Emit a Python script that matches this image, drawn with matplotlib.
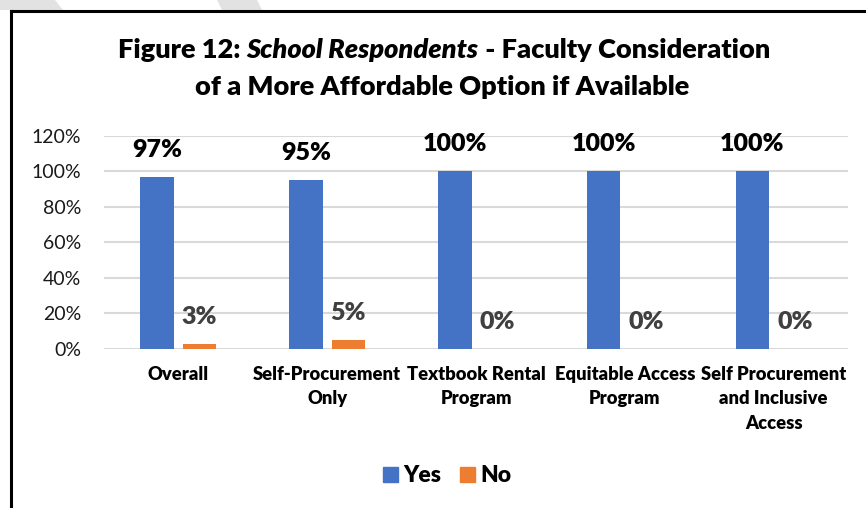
import matplotlib
matplotlib.use('Agg')
import matplotlib.pyplot as plt
import matplotlib.patches as mpatches
from matplotlib.ticker import FuncFormatter
import numpy as np

plt.rcParams['font.family'] = ['Lato', 'DejaVu Sans']

# survey shares (%)
categories = ['Overall', 'Self-Procurement\nOnly', 'Textbook Rental\nProgram',
              'Equitable Access\nProgram', 'Self Procurement\nand Inclusive\nAccess']
yes_pct = [97, 95, 100, 100, 100]
no_pct = [3, 5, 0, 0, 0]
yticks = [0, 20, 40, 60, 80, 100, 120]

BLUE = '#4472C4'
ORANGE = '#ED7D31'
W, H = 866, 508

fig = plt.figure(figsize=(W / 100, H / 100), dpi=100)
ax = fig.add_axes([104 / W, 1 - 349 / H, (848 - 104) / W, (349 - 135.7) / H])

x = np.arange(len(categories))
bw = 0.225
off = 0.1425
ax.bar(x - off, yes_pct, bw, color=BLUE, zorder=3)
ax.bar(x + off, no_pct, bw, color=ORANGE, zorder=3)

for xi, v in zip(x, yes_pct):
    ax.annotate(f'{v}%', (xi - off, v), xytext=(0, 14.4), textcoords='offset points',
                ha='center', va='baseline', fontsize=18, fontweight='heavy', color='black')
for xi, v in zip(x, no_pct):
    ax.annotate(f'{v}%', (xi + off, v), xytext=(0, 14.4), textcoords='offset points',
                ha='center', va='baseline', fontsize=18, fontweight='heavy', color='#404040')

ax.set_xlim(-0.5, len(categories) - 0.5)
ax.set_ylim(0, 120)
ax.set_yticks(yticks)
ax.yaxis.set_major_formatter(FuncFormatter(lambda v, p: f'{v:.0f}%'))
ax.tick_params(axis='y', length=0, pad=16.5, labelsize=14, labelcolor='#1a1a1a')
ax.set_xticks(x)
ax.set_xticklabels(categories, fontsize=13.2, fontweight='heavy', linespacing=1.55, va='top')
ax.tick_params(axis='x', length=0, pad=12)
ax.grid(axis='y', color='#d9d9d9', linewidth=1.5, zorder=0)
for s in ax.spines.values():
    s.set_visible(False)

# title, first line mixes bold and bold italic
r = fig.canvas.get_renderer()
def title_line(parts, yc, size, cx=444):
    objs = [fig.text(0, 1 - yc / H, s, fontsize=size, fontweight='heavy', fontstyle=st,
                     ha='left', va='center') for s, st in parts]
    widths = [t.get_window_extent(r).width for t in objs]
    xx = cx - sum(widths) / 2
    for t, w in zip(objs, widths):
        t.set_x(xx / W)
        xx += w

title_line([('Figure 12: ', 'normal'), ('School Respondents', 'italic'),
            (' - Faculty Consideration', 'normal')], 50, 19.5)
title_line([('of a More Affordable Option if Available', 'normal')], 87, 19.5, cx=442)

handles = [mpatches.Patch(color=BLUE, label='Yes'), mpatches.Patch(color=ORANGE, label='No')]
fig.legend(handles=handles, loc='center', bbox_to_anchor=(447.5 / W, 1 - 476 / H), ncol=2,
           frameon=False, prop={'weight': 'heavy', 'size': 16.5}, handlelength=0.65,
           handleheight=0.65, handletextpad=0.25, columnspacing=0.8)

# chart frame (left and top edges visible)
fig.add_artist(plt.Line2D([11 / W, 11 / W], [0, 1 - 11 / H], color='black', lw=2.2))
fig.add_artist(plt.Line2D([11 / W, 1], [1 - 11 / H, 1 - 11 / H], color='black', lw=2.2))

# faint watermark fragments along the top edge
for pts in ([(0, 0), (55, 0), (63, 10), (0, 10)], [(217, 0), (257, 0), (262, 10), (222, 10)]):
    fig.add_artist(mpatches.Polygon([(px / W, 1 - py / H) for px, py in pts],
                                    closed=True, color='#e2e2e2', lw=0))

fig.savefig('out.png', dpi=100)
